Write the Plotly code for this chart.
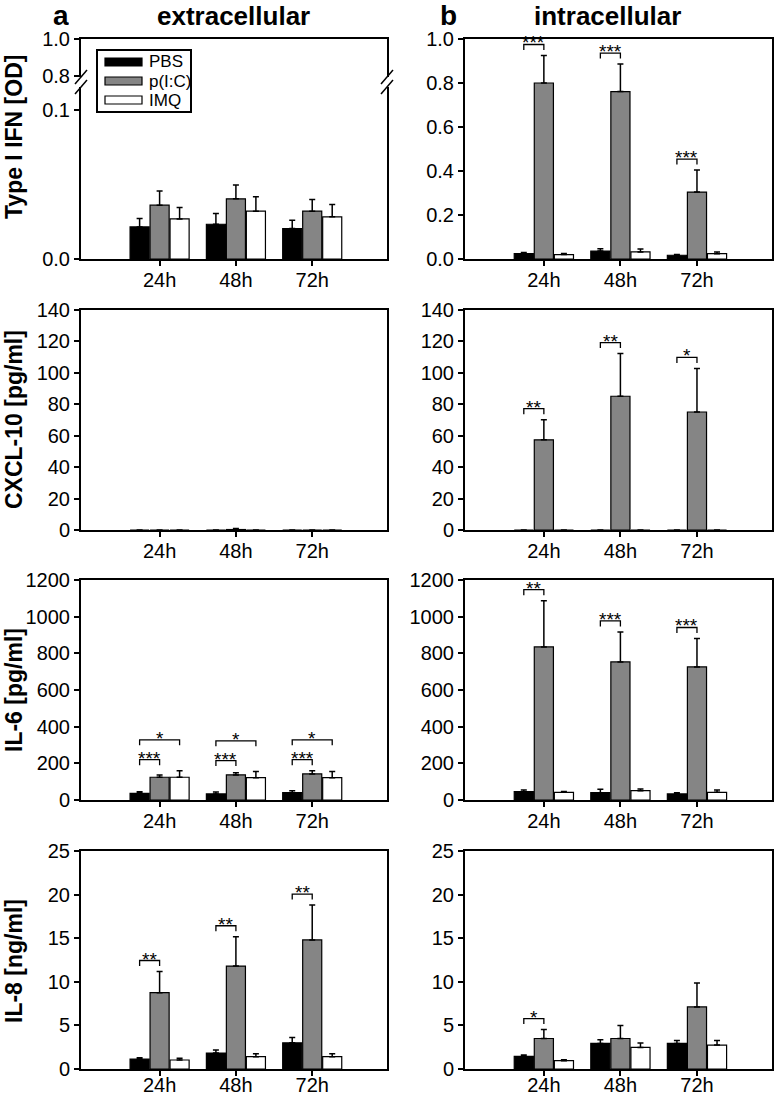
import plotly.graph_objects as go

W, H = 775, 1095

categories = ['24h', '48h', '72h']
treatments = ['PBS', 'p(I:C)', 'IMQ']
bar_colors = ['#000000', '#858585', '#ffffff']

# Type I IFN [OD]  (rows: PBS, p(I:C), IMQ; columns: 24h, 48h, 72h)
ifn_ext_mean = [[0.0215, 0.0233, 0.0204], [0.0361, 0.0404, 0.0321], [0.0269, 0.0321, 0.0283]]
ifn_ext_err = [[0.0056, 0.0072, 0.0056], [0.0096, 0.0092, 0.0078], [0.0076, 0.0096, 0.0082]]
ifn_int_mean = [[0.024, 0.036, 0.017], [0.800, 0.761, 0.304], [0.020, 0.032, 0.024]]
ifn_int_err = [[0.006, 0.011, 0.004], [0.125, 0.125, 0.100], [0.005, 0.014, 0.008]]
ifn_int_sig = [(0, 0, 1, '***'), (1, 0, 1, '***'), (2, 0, 1, '***')]

# CXCL-10 [pg/ml]
cxcl_ext_mean = [[0, 0, 0], [0, 0.3, 0], [0, 0, 0]]
cxcl_ext_err = [[0, 0, 0], [0, 0.6, 0], [0, 0, 0]]
cxcl_int_mean = [[0, 0, 0], [57.4, 85.1, 75.1], [0, 0, 0]]
cxcl_int_err = [[0, 0, 0], [12.8, 27.2, 27.7], [0, 0, 0]]
cxcl_int_sig = [(0, 0, 1, '**'), (1, 0, 1, '**'), (2, 0, 1, '*')]

# IL-6 [pg/ml]
il6_ext_mean = [[36.5, 33, 40], [124, 137, 142], [124, 122, 122]]
il6_ext_err = [[9, 11, 11], [13, 11, 18], [36, 33, 33]]
il6_ext_sig = [(0, 0, 1, '***'), (0, 0, 2, '*'), (1, 0, 1, '***'), (1, 0, 2, '*'),
               (2, 0, 1, '***'), (2, 0, 2, '*')]
il6_int_mean = [[45.6, 40, 33], [835, 753, 726], [42, 51, 42]]
il6_int_err = [[9, 18, 7], [252, 164, 155], [5, 9, 13]]
il6_int_sig = [(0, 0, 1, '**'), (1, 0, 1, '***'), (2, 0, 1, '***')]

# IL-8 [ng/ml]
il8_ext_mean = [[1.14, 1.83, 3.0], [8.75, 11.8, 14.8], [1.03, 1.41, 1.41]]
il8_ext_err = [[0.15, 0.34, 0.61], [2.44, 3.38, 4.0], [0.19, 0.34, 0.34]]
il8_ext_sig = [(0, 0, 1, '**'), (1, 0, 1, '**'), (2, 0, 1, '**')]
il8_int_mean = [[1.45, 2.93, 2.93], [3.5, 3.5, 7.12], [0.95, 2.47, 2.74]]
il8_int_err = [[0.15, 0.42, 0.34], [1.03, 1.48, 2.74], [0.12, 0.5, 0.53]]
il8_int_sig = [(0, 0, 1, '*')]

row_titles = ['Type I IFN [OD]', 'CXCL-10 [pg/ml]', 'IL-6 [pg/ml]', 'IL-8 [ng/ml]']
col_titles = ['extracellular', 'intracellular']
col_letters = ['a', 'b']

FONT = 'Liberation Sans, Arial, sans-serif'


def px(x):
    return x / W


def py(y):
    return 1 - y / H


xcols = [(81, 387), (465, 772)]
ytops = [39, 310, 580, 851]
ybots = [259, 530, 800, 1069]
label_standoff = [-3, -3, -3, -8]

bargap = 0.214
bargroupgap = 0.046
slot = (1 - bargap) / 3
offsets = [(i - 1) * slot for i in range(3)]
group_x = list(range(len(categories)))

panels = [
    dict(mean=ifn_ext_mean, err=ifn_ext_err, sig=[], yr=[0, 0.1154], tickvals=[0, 0.1],
         ticktext=['0.0', '0.1'], broken=True),
    dict(mean=ifn_int_mean, err=ifn_int_err, sig=ifn_int_sig, yr=[0, 1.0], dtick=0.2, fmt='.1f'),
    dict(mean=cxcl_ext_mean, err=cxcl_ext_err, sig=[], yr=[0, 140], dtick=20),
    dict(mean=cxcl_int_mean, err=cxcl_int_err, sig=cxcl_int_sig, yr=[0, 140], dtick=20),
    dict(mean=il6_ext_mean, err=il6_ext_err, sig=il6_ext_sig, yr=[0, 1200], dtick=200),
    dict(mean=il6_int_mean, err=il6_int_err, sig=il6_int_sig, yr=[0, 1200], dtick=200),
    dict(mean=il8_ext_mean, err=il8_ext_err, sig=il8_ext_sig, yr=[0, 25], dtick=5),
    dict(mean=il8_int_mean, err=il8_int_err, sig=il8_int_sig, yr=[0, 25], dtick=5),
]

fig = go.Figure()
layout = {}
annotations = []
shapes = []

axis_common = dict(showline=True, linecolor='black', linewidth=2, mirror=True,
                   ticks='outside', ticklen=5, tickwidth=1.5, tickcolor='black',
                   showgrid=False, zeroline=False, automargin=False,
                   tickfont=dict(family=FONT, size=20, color='black'))

for k, p in enumerate(panels):
    r, c = divmod(k, 2)
    n = k + 1
    xa = 'x' if n == 1 else f'x{n}'
    ya = 'y' if n == 1 else f'y{n}'
    xkey = 'xaxis' if n == 1 else f'xaxis{n}'
    ykey = 'yaxis' if n == 1 else f'yaxis{n}'
    x0, x1 = xcols[c]
    ytop = 87 if p.get('broken') else ytops[r]
    for t in range(3):
        err_up = [e if e > 0 else None for e in p['err'][t]]
        err_dn = [0 if e > 0 else None for e in p['err'][t]]
        fig.add_trace(go.Bar(
            x=group_x, y=p['mean'][t], name=treatments[t], xaxis=xa, yaxis=ya,
            marker=dict(color=bar_colors[t], line=dict(color='black', width=1.2)),
            error_y=dict(type='data', symmetric=False, array=err_up, arrayminus=err_dn,
                         color='black', thickness=1.5, width=3),
            showlegend=False))
    xax = dict(axis_common, domain=[px(x0), px(x1)], anchor=ya, range=[-1.03, 2.98],
               tickmode='array', tickvals=group_x, ticktext=categories,
               ticklabelstandoff=label_standoff[r])
    yax = dict(axis_common, domain=[py(ybots[r]), py(ytop)], anchor=xa, range=p['yr'])
    if p.get('broken'):
        xax['mirror'] = False
        yax.update(tickmode='array', tickvals=p['tickvals'], ticktext=p['ticktext'])
    else:
        yax.update(dtick=p['dtick'], tick0=0)
        if p.get('fmt'):
            yax['tickformat'] = p['fmt']
    layout[xkey] = xax
    layout[ykey] = yax

    # significance brackets
    rng = p['yr'][1] - p['yr'][0]
    levels = {}
    for (g, i, j, label) in p['sig']:
        tops = [p['mean'][t][g] + p['err'][t][g] for t in range(3)]
        lv = levels.get(g, 0)
        levels[g] = lv + 1
        yb = max(tops) + 0.05 * rng + lv * 0.09 * rng
        hdrop = 0.025 * rng
        xi = g + offsets[i]
        xj = g + offsets[j]
        fig.add_trace(go.Scatter(x=[xi, xi, xj, xj], y=[yb - hdrop, yb, yb, yb - hdrop],
                                 mode='lines', line=dict(color='black', width=1.3),
                                 xaxis=xa, yaxis=ya, showlegend=False, hoverinfo='skip'))
        annotations.append(dict(x=(xi + xj) / 2, y=yb, xref=xa, yref=ya, text=label,
                                showarrow=False, yanchor='bottom', yshift=-11,
                                font=dict(family=FONT, size=19, color='black')))

# upper segment of broken axis (panel a, top)
layout['yaxis9'] = dict(axis_common, domain=[py(77), py(39)], anchor='x9', range=[0.7946, 1.0],
                        tickmode='array', tickvals=[0.8, 1.0], ticktext=['0.8', '1.0'])
layout['xaxis9'] = dict(domain=[px(xcols[0][0]), px(xcols[0][1])], anchor='y9', range=[-1.03, 2.98],
                        side='top', showline=True, linecolor='black', linewidth=2, automargin=False,
                        showticklabels=False, ticks='', showgrid=False, zeroline=False)
fig.add_trace(go.Scatter(x=[0], y=[0.9], xaxis='x9', yaxis='y9', mode='markers',
                         marker=dict(opacity=0), showlegend=False, hoverinfo='skip'))

# axis-break marks
for xb in xcols[0]:
    for yc in (77, 87):
        shapes.append(dict(type='line', xref='paper', yref='paper',
                           x0=px(xb - 6), y0=py(yc + 7), x1=px(xb + 6), y1=py(yc - 7),
                           line=dict(color='black', width=1.5)))

# legend (panel a)
shapes.append(dict(type='rect', xref='paper', yref='paper', x0=px(97), y0=py(112), x1=px(191), y1=py(50),
                   line=dict(color='black', width=2), fillcolor='white'))
for t, yc in enumerate([62, 81, 100]):
    shapes.append(dict(type='rect', xref='paper', yref='paper', x0=px(105), x1=px(142),
                       y0=py(yc + 4), y1=py(yc - 4), fillcolor=bar_colors[t],
                       line=dict(color='black', width=1.2)))
    annotations.append(dict(x=px(147), y=py(yc), xref='paper', yref='paper', text=treatments[t],
                            showarrow=False, xanchor='left', yanchor='middle',
                            font=dict(family=FONT, size=17, color='black')))

# column headings
for c, (letter, title, lx, tx) in enumerate(zip(col_letters, col_titles, [61, 448], [233, 607])):
    annotations.append(dict(x=px(lx), y=py(0), xref='paper', yref='paper', text=f'<b>{letter}</b>',
                            showarrow=False, xanchor='center', yanchor='top', height=27,
                            font=dict(family=FONT, size=28, color='black')))
    annotations.append(dict(x=px(tx), y=py(16), xref='paper', yref='paper', text=f'<b>{title}</b>',
                            showarrow=False, xanchor='center', yanchor='middle',
                            font=dict(family=FONT, size=26, color='black')))

# row titles (y-axis titles)
ycenters = [137, 420, 690, 961]
for r, title in enumerate(row_titles):
    annotations.append(dict(x=px(14), y=py(ycenters[r]), xref='paper', yref='paper',
                            text=f'<b>{title}</b>', textangle=-90, showarrow=False,
                            xanchor='center', yanchor='middle',
                            font=dict(family=FONT, size=23, color='black')))

fig.update_layout(
    width=W, height=H, autosize=False,
    margin=dict(l=0, r=0, t=0, b=0, pad=0),
    paper_bgcolor='white', plot_bgcolor='white',
    barmode='group', bargap=bargap, bargroupgap=bargroupgap,
    showlegend=False,
    font=dict(family=FONT, color='black'),
    annotations=annotations, shapes=shapes,
    **layout)

fig.write_html('out.html', config={'displayModeBar': False},
               post_script="document.body.style.margin='0px';document.body.style.padding='0px';")
